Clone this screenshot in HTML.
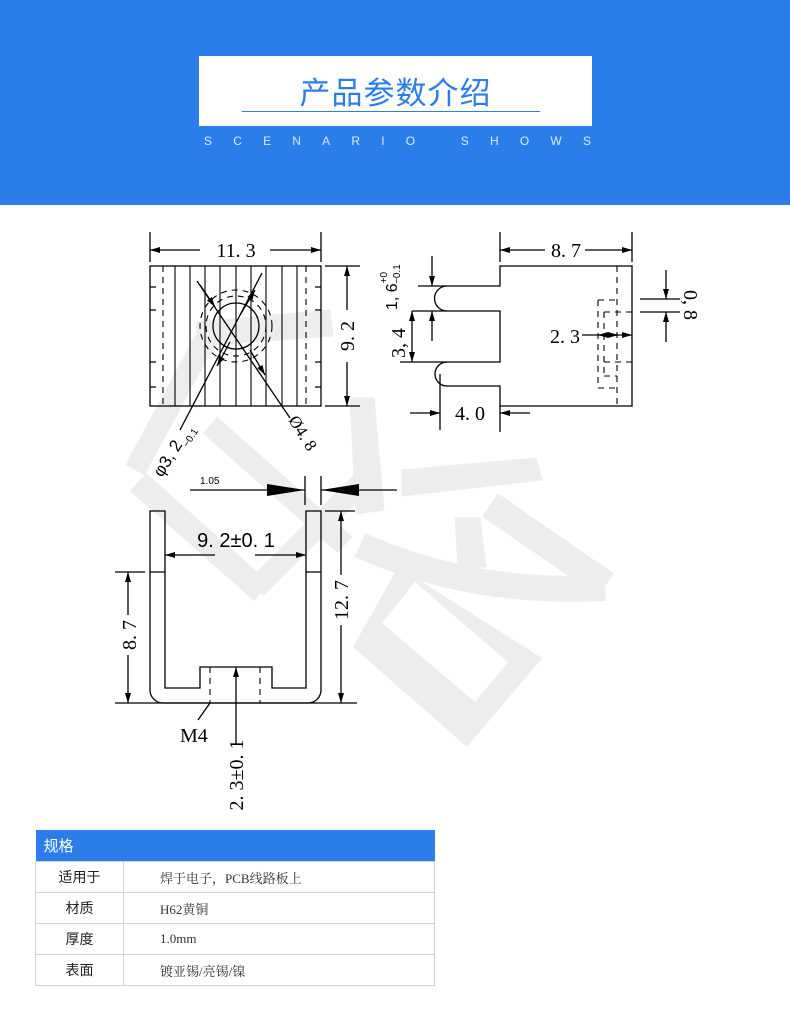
<!DOCTYPE html>
<html><head><meta charset="utf-8"><style>
body{margin:0;width:790px;height:1029px;background:#fff;position:relative;overflow:hidden;font-family:"Liberation Sans","Noto Sans CJK SC",sans-serif}
.hdr{position:absolute;left:0;top:0;width:790px;height:205px;background:#2b7ee9}
.box{position:absolute;left:199px;top:56px;width:393px;height:70px;background:#fff}
.box h1{margin:0;position:absolute;left:0;right:0;top:12px;text-align:center;font-size:31px;font-weight:normal;color:#2b7ee9;letter-spacing:1px}
.box .ln{position:absolute;left:43px;width:298px;top:55px;height:1px;background:#2b7ee9}
.sub{position:absolute;left:204px;top:134px;color:#dfe9fb;font-size:12px;letter-spacing:21.2px;white-space:nowrap}
svg{position:absolute;left:0;top:0}
table{position:absolute;left:35px;top:830px;width:400px;border-collapse:collapse;font-size:14px}
th{background:#2b7ee9;color:#fff;text-align:left;font-weight:normal;height:31px;padding:0 0 0 8px;font-size:15px}
td{border:1px solid #d0d0d0;height:30px;padding:0}
td.k{width:87px;text-align:center;color:#222}
td.v{padding-left:36px;color:#333;font-family:"Liberation Serif","Noto Serif CJK SC",serif;font-size:13px}
</style></head><body>
<div class="hdr"></div>
<div class="box"><h1>产品参数介绍</h1><div class="ln"></div></div>
<div class="sub">SCENARIO SHOWS</div>
<svg width="790" height="1029" viewBox="0 0 790 1029">
<defs>
<marker id="a" viewBox="0 0 10 6" refX="10" refY="3" markerWidth="10" markerHeight="6" markerUnits="userSpaceOnUse" orient="auto"><path d="M0,0L10,3L0,6z" fill="#000"/></marker>
</defs>
<g fill="#ededed" stroke="#ededed" stroke-linecap="butt">
<polygon points="196,322 330,310 333,336 198,346"/>
<line x1="205" y1="340" x2="135" y2="470" stroke-width="22"/>
<line x1="138" y1="482" x2="262" y2="592" stroke-width="24"/>
<line x1="210" y1="425" x2="345" y2="545" stroke-width="22"/>
<polygon points="350,398 374,398 384,510 356,514"/>
<line x1="256" y1="588" x2="366" y2="478" stroke-width="22"/>
<polygon points="402,470 536,458 542,480 402,496"/>
<line x1="490" y1="505" x2="606" y2="585" stroke-width="28"/>
<path d="M360,545 Q470,595 605,588" fill="none" stroke-width="26"/>
<polygon points="455,518 480,518 486,567 458,567"/>
<path d="M353,647 L398,567 L542,658 L467,747 Z M382,623 L475,702 L508,662 L415,582 Z" fill-rule="evenodd" stroke="none"/>
</g>
<g stroke="#000" stroke-width="1.3" fill="none" font-family="Liberation Serif, serif" font-size="20">
<!-- drawing 1 -->
<rect x="150" y="266" width="171" height="140"/>
<g stroke-width="1.1"><path d="M175,266V406M190,266V406M205,266V406M220,266V406M236,266V406M251,266V406M266,266V406M282,266V406M297,266V406"/></g>
<g stroke-dasharray="6,5" stroke-width="1.1"><path d="M163,266V406M306,266V406"/>
<circle cx="236" cy="326" r="36"/><circle cx="236" cy="326" r="30"/></g>
<circle cx="236" cy="326" r="23"/>
<path d="M150,287h6M150,310h6M150,362h6M150,387h6M315,287h6M315,310h6M315,362h6M315,387h6"/>
<line x1="197" y1="281" x2="290" y2="418"/>
<path d="M200,285L215,307" marker-end="url(#a)"/>
<path d="M250,350L265,375" marker-end="url(#a)"/>
<line x1="262" y1="273" x2="180" y2="430"/>
<path d="M240,315L255,290" marker-end="url(#a)"/>
<path d="M230,342L217,366" marker-end="url(#a)"/>
<path d="M150,232V262M321,232V262"/>
<path d="M200,250H150" marker-end="url(#a)"/><path d="M270,250H321" marker-end="url(#a)"/>
<text x="236" y="257" text-anchor="middle" fill="#000" stroke="none">11. 3</text>
<path d="M325,266H360M325,406H360"/>
<path d="M347,310V266" marker-end="url(#a)"/><path d="M347,362V406" marker-end="url(#a)"/>
<text transform="translate(354,336) rotate(-90)" text-anchor="middle" fill="#000" stroke="none">9. 2</text>
<text transform="translate(162,478) rotate(-58)" fill="#000" stroke="none" font-family="Liberation Sans, sans-serif" font-size="17">φ3, 2<tspan font-size="10" dy="6">−0.1</tspan></text>
<text transform="translate(288,420) rotate(58)" fill="#000" stroke="none" font-size="17">Ø4. 8</text>
<!-- drawing 2 -->
<path d="M500,266V286H447A12.5,12.5 0 0 0 447,311H500V362H447A12,12 0 0 0 447,386H500V406H632V266Z"/>
<path d="M440,374V430"/>
<path d="M500,232V262M632,232V262"/>
<path d="M545,250H500" marker-end="url(#a)"/><path d="M585,250H632" marker-end="url(#a)"/>
<text x="566" y="257" text-anchor="middle" fill="#000" stroke="none">8. 7</text>
<g stroke-dasharray="6,5" stroke-width="1.1"><path d="M617,266V406M598,300H617M598,300V388H617M604,312V376M604,312H632M604,362H632M604,376H617"/></g>
<path d="M500,406V432"/>
<path d="M410,413H440" marker-end="url(#a)"/><path d="M530,413H500" marker-end="url(#a)"/>
<text x="470" y="420" text-anchor="middle" fill="#000" stroke="none">4. 0</text>
<path d="M418,286H447M400,362H447"/>
<path d="M432,256V286" marker-end="url(#a)"/><path d="M432,341V311" marker-end="url(#a)"/>
<path d="M412,311H447"/><path d="M412,336V311" marker-end="url(#a)"/><path d="M412,336V362" marker-end="url(#a)"/>
<text transform="translate(405,358) rotate(-90)" fill="#000" stroke="none">3, 4</text>
<text transform="translate(397,310) rotate(-90)" fill="#000" stroke="none" font-family="Liberation Sans, sans-serif" font-size="16">1, 6<tspan font-size="10" dy="-10">+0</tspan><tspan font-size="10" dx="-12" dy="13">−0.1</tspan></text>
<path d="M640,299H680M640,312H680"/>
<path d="M666,270V299" marker-end="url(#a)"/><path d="M666,342V312" marker-end="url(#a)"/>
<text transform="translate(684,290) rotate(90)" fill="#000" stroke="none">0, 8</text>
<text x="550" y="343" fill="#000" stroke="none">2. 3</text>
<path d="M582,335H618" marker-end="url(#a)"/><path d="M610,335H632" marker-end="url(#a)"/><path d="M618,335H598" marker-end="url(#a)"/>
<!-- drawing 3 -->
<path d="M150,511H165V688H200V667H272V688H306V511H321V690A13,13 0 0 1 308,703H163A13,13 0 0 1 150,690Z"/>
<path d="M150,572H165M306,572H321"/>
<path d="M115,703H357"/>
<g stroke-dasharray="6,5" stroke-width="1.1"><path d="M210,667V703M260,667V703"/></g>
<path d="M215,555H165" marker-end="url(#a)"/><path d="M255,555H306" marker-end="url(#a)"/>
<text x="236" y="547" text-anchor="middle" fill="#000" stroke="none" font-family="Liberation Sans, sans-serif">9. 2±0. 1</text>
<path d="M305,476V505M321,476V505"/>
<path d="M190,490H305"/>
<polygon points="267,484 305,490 267,496" fill="#000" stroke="none"/>
<path d="M397,490H321"/><polygon points="359,484 321,490 359,496" fill="#000" stroke="none"/>
<text x="200" y="484" fill="#000" stroke="none" font-family="Liberation Sans, sans-serif" font-size="10">1.05</text>
<path d="M115,572H145"/>
<path d="M128,615V572" marker-end="url(#a)"/><path d="M128,655V703" marker-end="url(#a)"/>
<text transform="translate(136,635) rotate(-90)" text-anchor="middle" fill="#000" stroke="none">8. 7</text>
<path d="M325,511H355"/>
<path d="M341,575V511" marker-end="url(#a)"/><path d="M341,625V703" marker-end="url(#a)"/>
<text transform="translate(348,600) rotate(-90)" text-anchor="middle" fill="#000" stroke="none">12. 7</text>
<path d="M236,745V667" marker-end="url(#a)"/>
<text transform="translate(243,775) rotate(-90)" text-anchor="middle" fill="#000" stroke="none">2. 3±0. 1</text>
<path d="M210,703L198,720"/>
<text x="180" y="742" fill="#000" stroke="none">M4</text>
</g>
</svg>
<table>
<tr><th colspan="2">规格</th></tr>
<tr><td class="k">适用于</td><td class="v">焊于电子，PCB线路板上</td></tr>
<tr><td class="k">材质</td><td class="v">H62黄铜</td></tr>
<tr><td class="k">厚度</td><td class="v">1.0mm</td></tr>
<tr><td class="k">表面</td><td class="v">镀亚锡/亮锡/镍</td></tr>
</table>
</body></html>
